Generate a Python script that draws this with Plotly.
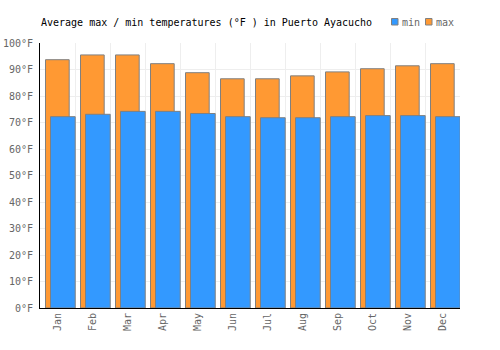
import plotly.graph_objects as go

months = ["Jan", "Feb", "Mar", "Apr", "May", "Jun", "Jul", "Aug", "Sep", "Oct", "Nov", "Dec"]
max_f = [93.7, 95.5, 95.5, 92.2, 88.8, 86.5, 86.5, 87.6, 89.1, 90.3, 91.4, 92.2]
min_f = [72.2, 73.1, 74.2, 74.2, 73.4, 72.2, 71.8, 71.8, 72.2, 72.6, 72.6, 72.2]
y_ticks = [0, 10, 20, 30, 40, 50, 60, 70, 80, 90, 100]

FONT = "DejaVu Sans Mono"
ORANGE = "#ff9933"
BLUE = "#3399ff"
EDGE = "#808080"

fig = go.Figure()
fig.add_trace(go.Bar(
    x=months, y=max_f, name="max",
    marker=dict(color=ORANGE, line=dict(color=EDGE, width=1)),
    width=0.677, offset=-0.343, showlegend=False,
))
fig.add_trace(go.Bar(
    x=months, y=min_f, name="min",
    marker=dict(color=BLUE, line=dict(color=EDGE, width=1)),
    width=0.706, offset=-0.2, showlegend=False,
))

W, H = 500, 350
L, R, T, B = 40, 40, 43, 42
pw, ph = W - L - R, H - T - B

def px_x(x):
    return (x - L) / pw

def px_y(y):
    return (H - B - y) / ph

shapes = []
annotations = []
legend_items = [("min", BLUE, 391.5, 399.5), ("max", ORANGE, 425.5, 433.5)]
for name, col, sx, tx in legend_items:
    shapes.append(dict(type="rect", xref="paper", yref="paper",
                       x0=px_x(sx), x1=px_x(sx + 6.5), y0=px_y(25), y1=px_y(18.5),
                       fillcolor=col, line=dict(color=EDGE, width=1)))
    annotations.append(dict(text=name, xref="paper", yref="paper",
                            x=px_x(tx), y=px_y(22), xanchor="left", yanchor="middle",
                            showarrow=False, font=dict(family=FONT, size=10, color="#666666")))

annotations.append(dict(text="Average max / min temperatures (°F ) in Puerto Ayacucho",
                        xref="paper", yref="paper", x=px_x(38.5), y=px_y(22),
                        xanchor="left", yanchor="middle", showarrow=False,
                        font=dict(family=FONT, size=10, color="#000000")))

fig.update_layout(
    width=W, height=H,
    margin=dict(l=L, r=R, t=T, b=B, pad=0, autoexpand=False),
    barmode="overlay",
    plot_bgcolor="white", paper_bgcolor="white",
    font=dict(family=FONT, size=10, color="#666666"),
    shapes=shapes, annotations=annotations,
    xaxis=dict(
        type="category", tickson="boundaries", showgrid=True, gridcolor="#eeeeee",
        gridwidth=1, showline=True, linecolor="black", linewidth=1,
        tickangle=-90, ticks="outside", ticklen=4, tickcolor="rgba(0,0,0,0)",
        tickfont=dict(family=FONT, size=10, color="#666666"),
        range=[-0.5, 11.5], fixedrange=True, automargin=False,
    ),
    yaxis=dict(
        range=[0, 100], tickvals=y_ticks, ticktext=[f"{v}°F" for v in y_ticks],
        showgrid=True, gridcolor="#eeeeee", gridwidth=1,
        showline=True, linecolor="black", linewidth=1, zeroline=False,
        ticks="outside", ticklen=4, tickcolor="rgba(0,0,0,0)",
        tickfont=dict(family=FONT, size=10, color="#666666"),
        fixedrange=True, automargin=False,
    ),
)

fig.write_html("out.html")
